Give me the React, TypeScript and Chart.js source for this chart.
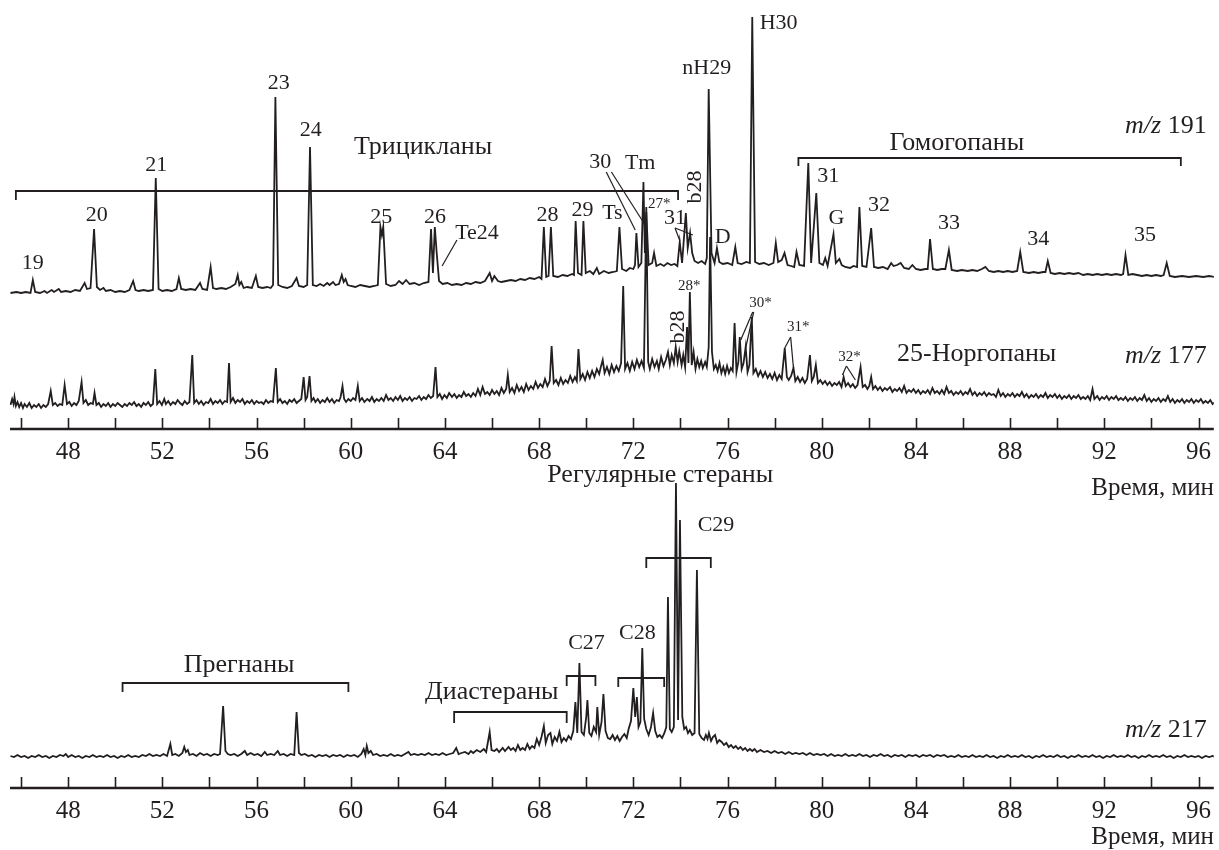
import React, { useEffect, useRef } from "react";
import { Chart, registerables } from "chart.js";
Chart.register(...registerables);

const FONT = '"Liberation Serif", "DejaVu Serif", serif';
const INK = "#231f20";
const T_MIN = 45.53;
const T_MAX = 96.65;

const TICK_VALUES = [46, 48, 50, 52, 54, 56, 58, 60, 62, 64, 66, 68, 70, 72, 74, 76, 78, 80, 82, 84, 86, 88, 90, 92, 94, 96];
const TICK_LABEL_STEP = 4;
const AXIS_TITLE = "Время, мин";

// m/z 191 : [time, intensity]
const mz191: [number, number][] = [
  [45.55,0],[45.8,1],[46.0,0],[46.2,1],[46.4,0],[46.5,13],[46.6,1],[46.8,0],[47.0,2],[47.1,0],[47.3,3],[47.4,1],[47.6,4],[47.7,1],[47.9,2],[48.1,1],[48.3,3],[48.5,2],[48.7,10],[48.8,4],[48.95,5],[49.1,64],[49.22,6],[49.35,3],[49.5,5],[49.6,2],[49.8,3],[50.0,1],[50.2,2],[50.4,1],[50.6,3],[50.76,12],[50.86,3],[51.0,2],[51.2,3],[51.4,2],[51.6,3],[51.72,115],[51.84,4],[52.0,2],[52.2,3],[52.4,2],[52.6,4],[52.7,15],[52.8,4],[53.0,3],[53.2,4],[53.4,3],[53.6,10],[53.7,4],[53.9,3],[54.05,26],[54.15,5],[54.3,4],[54.5,5],[54.7,4],[54.9,6],[55.1,9],[55.2,18],[55.27,8],[55.35,11],[55.45,5],[55.6,6],[55.8,5],[55.97,17],[56.07,6],[56.25,5],[56.45,6],[56.6,5],[56.7,8],[56.8,196],[56.92,8],[57.1,6],[57.3,5],[57.5,7],[57.7,15],[57.8,7],[58.0,6],[58.15,8],[58.27,146],[58.39,8],[58.55,7],[58.7,9],[58.85,7],[59.0,10],[59.1,8],[59.25,11],[59.35,8],[59.5,9],[59.62,18],[59.7,11],[59.78,14],[59.87,8],[60.0,7],[60.2,6],[60.4,8],[60.6,7],[60.8,6],[61.0,7],[61.15,8],[61.26,66],[61.32,58],[61.38,66],[61.5,9],[61.7,7],[61.9,8],[62.05,12],[62.2,9],[62.35,13],[62.5,9],[62.7,10],[62.9,8],[63.1,10],[63.3,11],[63.41,64],[63.49,20],[63.57,66],[63.65,40],[63.75,12],[63.9,9],[64.1,10],[64.3,8],[64.5,9],[64.7,8],[64.9,10],[65.1,9],[65.3,11],[65.5,10],[65.7,12],[65.9,20],[66.0,12],[66.1,17],[66.25,12],[66.4,11],[66.6,12],[66.8,13],[67.0,12],[67.2,14],[67.4,13],[67.6,15],[67.8,14],[68.0,16],[68.1,14],[68.2,66],[68.3,16],[68.4,17],[68.5,66],[68.6,17],[68.8,16],[69.0,18],[69.2,17],[69.4,19],[69.48,18],[69.55,72],[69.65,20],[69.8,18],[69.88,72],[69.98,20],[70.15,22],[70.3,19],[70.45,25],[70.55,19],[70.75,22],[70.95,20],[71.15,21],[71.3,22],[71.41,66],[71.52,24],[71.7,22],[71.85,25],[72.0,24],[72.07,28],[72.13,60],[72.22,26],[72.34,30],[72.43,111],[72.49,40],[72.55,81],[72.65,28],[72.8,30],[72.88,40],[72.98,27],[73.15,29],[73.3,27],[73.45,30],[73.6,28],[73.75,29],[73.87,27],[73.97,51],[74.07,30],[74.23,80],[74.31,45],[74.41,60],[74.5,40],[74.6,32],[74.75,30],[74.9,32],[75.05,29],[75.12,35],[75.2,204],[75.32,40],[75.45,30],[75.55,45],[75.65,31],[75.8,29],[76.0,30],[76.2,28],[76.33,46],[76.43,30],[76.6,29],[76.8,31],[76.95,30],[77.05,276],[77.17,31],[77.35,29],[77.55,30],[77.75,28],[77.95,30],[78.05,50],[78.15,31],[78.3,33],[78.42,40],[78.55,28],[78.7,27],[78.83,26],[78.93,41],[79.05,28],[79.25,27],[79.43,130],[79.55,30],[79.77,100],[79.9,30],[80.05,28],[80.15,35],[80.25,27],[80.5,59],[80.6,30],[80.75,34],[80.85,28],[81.0,26],[81.2,25],[81.35,27],[81.5,26],[81.6,86],[81.72,27],[81.9,26],[82.1,65],[82.22,26],[82.4,25],[82.6,26],[82.8,24],[82.95,30],[83.05,27],[83.2,28],[83.35,30],[83.5,25],[83.7,24],[83.85,28],[84.0,24],[84.2,23],[84.4,24],[84.5,24],[84.6,54],[84.72,24],[84.9,23],[85.1,24],[85.25,24],[85.4,43],[85.52,23],[85.75,22],[85.95,23],[86.2,22],[86.4,23],[86.6,22],[86.8,24],[86.95,26],[87.1,22],[87.3,21],[87.5,22],[87.7,21],[87.9,22],[88.1,21],[88.3,22],[88.43,41],[88.56,21],[88.8,20],[89.0,21],[89.2,20],[89.4,21],[89.5,21],[89.6,32],[89.72,20],[89.9,19],[90.1,20],[90.3,19],[90.5,20],[90.7,19],[90.9,20],[91.1,18],[91.3,19],[91.5,18],[91.7,19],[91.9,18],[92.1,19],[92.3,18],[92.5,19],[92.7,18],[92.8,19],[92.9,38],[93.02,18],[93.2,19],[93.4,18],[93.6,17],[93.8,18],[94.0,17],[94.2,18],[94.4,17],[94.52,18],[94.65,30],[94.78,17],[95.0,16],[95.3,17],[95.6,16],[95.9,17],[96.2,16],[96.45,17],[96.7,16]
];

// m/z 177 : [time, intensity]
const mz177: [number, number][] = [
  [45.55,2],[45.62,8],[45.68,3],[45.72,10],[45.78,1],[45.85,5],[45.92,0],[46.0,4],[46.08,-1],[46.15,3],[46.25,0],[46.35,4],[46.45,-1],[46.55,2],[46.65,0],[46.75,3],[46.85,-1],[46.95,2],[47.05,0],[47.15,3],[47.26,16],[47.35,2],[47.45,4],[47.55,1],[47.65,3],[47.75,2],[47.85,22],[47.95,3],[48.05,5],[48.15,1],[48.25,4],[48.35,2],[48.45,6],[48.57,25],[48.65,4],[48.75,7],[48.85,2],[48.95,4],[49.05,3],[49.12,14],[49.2,2],[49.3,4],[49.4,0],[49.5,3],[49.6,1],[49.7,4],[49.8,0],[49.9,3],[50.0,1],[50.1,4],[50.2,2],[50.3,0],[50.4,3],[50.5,1],[50.6,4],[50.7,2],[50.8,5],[50.9,1],[51.0,3],[51.1,0],[51.2,4],[51.3,2],[51.4,5],[51.5,1],[51.6,3],[51.7,38],[51.78,3],[51.88,6],[51.98,2],[52.08,8],[52.15,3],[52.25,6],[52.35,2],[52.45,5],[52.55,3],[52.65,7],[52.75,4],[52.85,2],[52.95,6],[53.05,3],[53.15,5],[53.27,52],[53.35,4],[53.45,7],[53.55,3],[53.65,6],[53.75,2],[53.85,5],[53.95,4],[54.05,8],[54.15,3],[54.25,6],[54.35,4],[54.45,7],[54.55,3],[54.65,6],[54.75,5],[54.83,44],[54.9,5],[55.0,9],[55.1,4],[55.2,7],[55.3,5],[55.4,8],[55.5,3],[55.6,6],[55.7,4],[55.8,7],[55.9,3],[56.0,6],[56.1,4],[56.2,5],[56.3,3],[56.4,7],[56.5,4],[56.6,6],[56.7,5],[56.82,39],[56.9,5],[57.0,8],[57.1,4],[57.2,6],[57.3,3],[57.4,7],[57.5,5],[57.6,8],[57.7,4],[57.8,6],[57.9,8],[58.0,30],[58.08,7],[58.15,10],[58.25,31],[58.33,6],[58.42,9],[58.5,5],[58.6,8],[58.7,4],[58.8,7],[58.9,5],[59.0,9],[59.1,5],[59.2,8],[59.3,4],[59.4,7],[59.5,6],[59.57,10],[59.65,21],[59.72,8],[59.8,5],[59.9,8],[60.0,6],[60.1,9],[60.2,7],[60.3,21],[60.38,6],[60.48,9],[60.58,5],[60.7,8],[60.8,6],[60.9,10],[61.0,5],[61.1,8],[61.2,6],[61.3,9],[61.4,6],[61.5,12],[61.6,7],[61.7,9],[61.8,6],[61.9,10],[62.0,7],[62.1,11],[62.2,6],[62.3,9],[62.4,7],[62.5,10],[62.6,6],[62.7,9],[62.8,8],[62.9,11],[63.0,7],[63.1,10],[63.2,8],[63.3,12],[63.4,9],[63.5,11],[63.6,40],[63.68,10],[63.78,13],[63.88,8],[63.98,12],[64.08,9],[64.18,14],[64.3,10],[64.4,13],[64.5,9],[64.6,12],[64.7,10],[64.8,15],[64.9,11],[65.0,13],[65.1,10],[65.2,14],[65.3,11],[65.4,18],[65.5,12],[65.6,20],[65.7,13],[65.8,15],[65.9,12],[66.0,17],[66.1,13],[66.2,16],[66.3,12],[66.4,19],[66.5,14],[66.6,18],[66.67,32],[66.75,15],[66.85,19],[66.95,14],[67.05,22],[67.15,16],[67.25,20],[67.35,15],[67.45,23],[67.55,17],[67.65,21],[67.75,18],[67.85,25],[67.95,19],[68.05,23],[68.15,20],[68.25,28],[68.35,21],[68.45,26],[68.53,61],[68.62,24],[68.72,27],[68.82,22],[68.92,29],[69.02,23],[69.12,27],[69.22,24],[69.32,31],[69.42,25],[69.52,30],[69.6,26],[69.67,58],[69.75,28],[69.85,33],[69.95,27],[70.05,35],[70.15,29],[70.25,36],[70.35,30],[70.45,38],[70.55,33],[70.62,40],[70.7,47],[70.78,34],[70.88,40],[70.98,33],[71.08,42],[71.18,35],[71.28,41],[71.38,36],[71.48,44],[71.57,121],[71.65,38],[71.75,44],[71.85,36],[71.95,45],[72.05,38],[72.15,47],[72.25,40],[72.35,46],[72.45,39],[72.55,200],[72.63,45],[72.7,38],[72.8,48],[72.9,40],[73.0,46],[73.08,38],[73.18,50],[73.28,41],[73.38,47],[73.47,55],[73.55,42],[73.63,52],[73.72,44],[73.8,60],[73.88,45],[73.95,56],[74.05,42],[74.12,52],[74.2,40],[74.28,80],[74.34,44],[74.4,115],[74.48,42],[74.56,55],[74.64,38],[74.72,48],[74.8,40],[74.88,46],[74.95,39],[75.05,45],[75.12,40],[75.2,60],[75.26,170],[75.34,55],[75.42,38],[75.5,42],[75.58,36],[75.66,44],[75.74,34],[75.82,40],[75.9,33],[75.98,41],[76.06,34],[76.14,39],[76.22,36],[76.3,84],[76.38,35],[76.46,45],[76.52,70],[76.6,38],[76.68,44],[76.77,60],[76.85,35],[76.93,42],[77.03,90],[77.1,34],[77.2,38],[77.3,31],[77.4,36],[77.5,30],[77.6,35],[77.7,29],[77.8,33],[77.9,28],[78.0,34],[78.1,27],[78.2,32],[78.3,28],[78.43,59],[78.52,30],[78.6,27],[78.7,31],[78.8,39],[78.88,26],[78.98,30],[79.08,25],[79.18,29],[79.28,24],[79.38,28],[79.5,52],[79.58,26],[79.66,30],[79.75,42],[79.84,24],[79.94,27],[80.04,23],[80.14,26],[80.24,22],[80.34,25],[80.44,21],[80.54,24],[80.64,22],[80.74,25],[80.84,20],[80.93,30],[81.02,21],[81.12,24],[81.22,20],[81.32,23],[81.42,19],[81.52,22],[81.65,40],[81.74,20],[81.84,22],[81.94,18],[82.02,21],[82.1,30],[82.18,18],[82.28,21],[82.38,17],[82.48,20],[82.58,16],[82.68,19],[82.78,17],[82.9,20],[83.0,15],[83.1,18],[83.2,16],[83.3,19],[83.4,15],[83.5,21],[83.6,14],[83.7,17],[83.8,15],[83.9,18],[84.0,14],[84.1,17],[84.2,13],[84.3,16],[84.4,14],[84.5,17],[84.6,13],[84.7,19],[84.8,14],[84.9,16],[85.0,13],[85.1,17],[85.2,13],[85.3,20],[85.4,14],[85.5,16],[85.6,12],[85.7,15],[85.8,13],[85.9,16],[86.0,12],[86.1,15],[86.2,13],[86.3,18],[86.4,12],[86.5,15],[86.6,11],[86.7,14],[86.8,12],[86.9,15],[87.0,11],[87.1,14],[87.2,12],[87.3,13],[87.4,10],[87.5,17],[87.6,11],[87.7,14],[87.8,10],[87.9,13],[88.0,11],[88.1,14],[88.2,10],[88.3,13],[88.4,11],[88.5,15],[88.6,10],[88.7,13],[88.8,9],[88.9,12],[89.0,10],[89.1,13],[89.2,9],[89.3,12],[89.4,10],[89.5,14],[89.6,9],[89.7,12],[89.8,10],[89.9,13],[90.0,9],[90.1,12],[90.2,8],[90.3,11],[90.4,9],[90.5,12],[90.6,8],[90.7,11],[90.8,9],[90.9,12],[91.0,8],[91.1,10],[91.2,8],[91.3,11],[91.4,7],[91.5,18],[91.58,8],[91.7,11],[91.8,7],[91.9,10],[92.0,8],[92.1,11],[92.2,7],[92.3,10],[92.4,8],[92.5,11],[92.6,7],[92.7,9],[92.8,7],[92.9,10],[93.0,6],[93.1,9],[93.2,7],[93.3,10],[93.4,6],[93.5,9],[93.6,7],[93.7,12],[93.8,6],[93.9,9],[94.0,5],[94.1,8],[94.2,6],[94.3,9],[94.4,5],[94.5,8],[94.6,6],[94.7,11],[94.8,5],[94.9,8],[95.0,4],[95.1,7],[95.2,5],[95.3,8],[95.4,4],[95.5,7],[95.6,5],[95.7,8],[95.8,4],[95.9,7],[96.0,5],[96.1,8],[96.2,4],[96.3,6],[96.4,4],[96.5,7],[96.6,3],[96.7,5]
];

// m/z 217 : [time, intensity]
const mz217: [number, number][] = [
  [45.55,1],[45.7,0],[45.85,2],[46.0,0],[46.15,1],[46.3,-1],[46.45,1],[46.6,0],[46.75,2],[46.9,0],[47.05,1],[47.2,-1],[47.35,1],[47.5,0],[47.65,2],[47.8,1],[47.9,3],[48.0,0],[48.15,2],[48.3,0],[48.45,1],[48.6,-1],[48.75,1],[48.9,0],[49.05,2],[49.2,0],[49.35,1],[49.5,0],[49.65,2],[49.8,0],[49.95,1],[50.1,-1],[50.25,1],[50.4,0],[50.55,2],[50.7,0],[50.85,1],[51.0,0],[51.15,2],[51.3,1],[51.45,3],[51.6,1],[51.75,2],[51.9,1],[52.05,3],[52.2,1],[52.34,13],[52.42,2],[52.55,3],[52.7,1],[52.85,4],[52.93,10],[53.0,5],[53.08,7],[53.15,2],[53.3,3],[53.45,1],[53.6,4],[53.75,2],[53.9,3],[54.05,1],[54.2,3],[54.35,2],[54.45,3],[54.58,51],[54.68,6],[54.78,3],[54.9,2],[55.05,3],[55.2,1],[55.35,3],[55.5,6],[55.6,2],[55.75,4],[55.9,2],[56.05,3],[56.2,1],[56.35,5],[56.45,2],[56.6,3],[56.75,2],[56.9,6],[57.0,2],[57.15,3],[57.3,1],[57.45,3],[57.6,2],[57.7,45],[57.8,4],[57.9,2],[58.05,3],[58.2,1],[58.35,2],[58.5,0],[58.65,2],[58.8,1],[58.95,2],[59.1,0],[59.25,2],[59.4,1],[59.55,2],[59.7,0],[59.85,2],[60.0,1],[60.15,2],[60.3,0],[60.45,3],[60.55,8],[60.62,2],[60.68,11],[60.75,4],[60.85,6],[60.95,2],[61.1,3],[61.25,1],[61.4,2],[61.55,1],[61.7,3],[61.85,1],[62.0,2],[62.15,1],[62.3,3],[62.45,5],[62.55,2],[62.7,3],[62.85,2],[63.0,3],[63.15,2],[63.3,4],[63.45,2],[63.6,3],[63.75,2],[63.9,4],[64.05,2],[64.2,3],[64.35,4],[64.48,9],[64.58,3],[64.7,4],[64.85,5],[65.0,3],[65.1,6],[65.2,4],[65.35,7],[65.5,5],[65.65,8],[65.75,5],[65.9,25],[65.98,7],[66.1,6],[66.2,8],[66.3,5],[66.45,9],[66.55,6],[66.7,10],[66.8,7],[66.9,9],[67.0,6],[67.1,12],[67.2,7],[67.3,9],[67.4,7],[67.5,13],[67.6,8],[67.7,11],[67.8,9],[67.9,18],[68.0,12],[68.1,20],[68.2,31],[68.28,14],[68.38,22],[68.48,24],[68.56,13],[68.66,20],[68.76,16],[68.86,25],[68.95,15],[69.05,19],[69.15,16],[69.25,21],[69.35,18],[69.45,26],[69.54,55],[69.62,24],[69.71,94],[69.8,25],[69.9,22],[70.0,40],[70.05,57],[70.13,24],[70.22,21],[70.32,30],[70.42,25],[70.47,50],[70.55,22],[70.65,35],[70.73,63],[70.82,26],[70.92,19],[71.02,18],[71.12,22],[71.22,17],[71.32,21],[71.42,16],[71.52,20],[71.62,23],[71.72,19],[71.8,28],[71.9,36],[72.0,69],[72.08,40],[72.15,60],[72.22,30],[72.3,35],[72.38,109],[72.46,38],[72.55,28],[72.65,22],[72.75,30],[72.84,44],[72.93,26],[73.02,20],[73.12,22],[73.22,19],[73.32,24],[73.4,30],[73.47,160],[73.55,28],[73.63,25],[73.72,30],[73.81,274],[73.9,37],[73.98,237],[74.08,40],[74.16,28],[74.24,30],[74.32,24],[74.4,27],[74.5,22],[74.6,24],[74.7,187],[74.8,23],[74.9,19],[75.0,17],[75.08,22],[75.15,18],[75.21,24],[75.3,16],[75.38,20],[75.47,22],[75.56,14],[75.65,17],[75.75,15],[75.85,12],[75.95,14],[76.05,10],[76.15,12],[76.25,9],[76.35,11],[76.45,8],[76.55,10],[76.65,7],[76.75,9],[76.85,6],[76.95,8],[77.05,6],[77.15,8],[77.25,5],[77.4,7],[77.55,5],[77.7,6],[77.85,4],[78.0,6],[78.15,4],[78.3,5],[78.45,3],[78.6,5],[78.75,3],[78.9,4],[79.05,3],[79.2,4],[79.35,2],[79.5,4],[79.65,2],[79.8,3],[79.95,2],[80.1,3],[80.25,1],[80.4,3],[80.55,1],[80.7,2],[80.85,1],[81.0,3],[81.15,1],[81.3,2],[81.45,1],[81.6,3],[81.75,1],[81.9,2],[82.05,0],[82.2,2],[82.35,1],[82.5,3],[82.65,1],[82.8,2],[82.95,0],[83.1,2],[83.25,1],[83.4,2],[83.55,0],[83.7,2],[83.85,1],[84.0,2],[84.15,0],[84.3,2],[84.45,1],[84.6,2],[84.75,0],[84.9,2],[85.05,1],[85.2,2],[85.35,0],[85.5,1],[85.65,0],[85.8,2],[85.95,0],[86.1,1],[86.25,0],[86.4,2],[86.55,0],[86.7,1],[86.85,0],[87.0,2],[87.15,0],[87.3,1],[87.45,-1],[87.6,1],[87.75,0],[87.9,2],[88.05,0],[88.2,1],[88.35,0],[88.5,2],[88.65,0],[88.8,1],[88.95,-1],[89.1,1],[89.25,0],[89.4,2],[89.55,0],[89.7,1],[89.85,0],[90.0,2],[90.15,0],[90.3,1],[90.45,-1],[90.6,1],[90.75,0],[90.9,2],[91.05,0],[91.2,1],[91.35,0],[91.5,2],[91.65,0],[91.8,1],[91.95,-1],[92.1,1],[92.25,0],[92.4,2],[92.55,0],[92.7,1],[92.85,0],[93.0,2],[93.15,0],[93.3,1],[93.45,-1],[93.6,1],[93.75,0],[93.9,2],[94.05,0],[94.2,1],[94.35,0],[94.5,2],[94.65,0],[94.8,1],[94.95,-1],[95.1,1],[95.25,0],[95.4,2],[95.55,0],[95.7,1],[95.85,0],[96.0,1],[96.15,-1],[96.3,1],[96.45,0],[96.6,1],[96.7,0]
];

type Txt = { text: string; t: number; v: number; axis: string; size: number; align?: CanvasTextAlign; rot?: boolean; mz?: boolean };
type Bracket = { t1: number; t2: number; v: number; drop: number; axis: string };
type Seg = { t1: number; v1: number; t2: number; v2: number; axis: string };

const topTexts: Txt[] = [
  { text: "19", t: 46.5, v: 30, axis: "y191", size: 22 },
  { text: "20", t: 49.21, v: 78, axis: "y191", size: 22 },
  { text: "21", t: 51.74, v: 128, axis: "y191", size: 22 },
  { text: "23", t: 56.94, v: 210, axis: "y191", size: 22 },
  { text: "24", t: 58.3, v: 163, axis: "y191", size: 22 },
  { text: "25", t: 61.3, v: 76, axis: "y191", size: 22 },
  { text: "26", t: 63.58, v: 76, axis: "y191", size: 22 },
  { text: "Te24", t: 65.36, v: 60, axis: "y191", size: 22 },
  { text: "28", t: 68.36, v: 78, axis: "y191", size: 22 },
  { text: "29", t: 69.84, v: 83, axis: "y191", size: 22 },
  { text: "Ts", t: 71.11, v: 80, axis: "y191", size: 22 },
  { text: "30", t: 70.6, v: 131, axis: "y191", size: 22 },
  { text: "Tm", t: 72.29, v: 130, axis: "y191", size: 22 },
  { text: "27*", t: 73.1, v: 89, axis: "y191", size: 15 },
  { text: "31", t: 73.77, v: 75, axis: "y191", size: 22 },
  { text: "b28", t: 74.61, v: 106, axis: "y191", size: 22, rot: true },
  { text: "nH29", t: 75.12, v: 225, axis: "y191", size: 22 },
  { text: "H30", t: 78.17, v: 270, axis: "y191", size: 22 },
  { text: "D", t: 75.79, v: 56, axis: "y191", size: 22 },
  { text: "31", t: 80.28, v: 117, axis: "y191", size: 22 },
  { text: "G", t: 80.62, v: 75, axis: "y191", size: 22 },
  { text: "32", t: 82.43, v: 88, axis: "y191", size: 22 },
  { text: "33", t: 85.4, v: 70, axis: "y191", size: 22 },
  { text: "34", t: 89.2, v: 54, axis: "y191", size: 22 },
  { text: "35", t: 93.73, v: 58, axis: "y191", size: 22 },
  { text: "Трицикланы", t: 63.07, v: 146, axis: "y191", size: 26 },
  { text: "Гомогопаны", t: 85.74, v: 150, axis: "y191", size: 26 },
  { text: "m/z 191", t: 96.35, v: 167, axis: "y191", size: 26, align: "right", mz: true },
  { text: "25-Норгопаны", t: 86.58, v: 53, axis: "y177", size: 26 },
  { text: "m/z 177", t: 96.35, v: 51, axis: "y177", size: 26, align: "right", mz: true },
  { text: "b28", t: 73.9, v: 80, axis: "y177", size: 22, rot: true },
  { text: "28*", t: 74.37, v: 121, axis: "y177", size: 15 },
  { text: "30*", t: 77.4, v: 104, axis: "y177", size: 15 },
  { text: "31*", t: 79.0, v: 80, axis: "y177", size: 15 },
  { text: "32*", t: 81.18, v: 50, axis: "y177", size: 15 },
];

const topBrackets: Bracket[] = [
  { t1: 45.78, t2: 73.9, v: 102, drop: 9, axis: "y191" },
  { t1: 79.01, t2: 95.25, v: 135, drop: 8, axis: "y191" },
];

const topSegs: Seg[] = [
  { t1: 64.51, v1: 53, t2: 63.88, v2: 27, axis: "y191" },
  { t1: 70.85, v1: 121, t2: 72.08, v2: 63, axis: "y191" },
  { t1: 71.07, v1: 121, t2: 72.5, v2: 68, axis: "y191" },
  { t1: 73.77, v1: 65, t2: 73.98, v2: 52, axis: "y191" },
  { t1: 73.77, v1: 65, t2: 74.53, v2: 58, axis: "y191" },
  { t1: 77.07, v1: 95, t2: 76.56, v2: 67, axis: "y177" },
  { t1: 77.11, v1: 95, t2: 76.77, v2: 59, axis: "y177" },
  { t1: 78.68, v1: 70, t2: 78.43, v2: 59, axis: "y177" },
  { t1: 78.68, v1: 70, t2: 78.8, v2: 39, axis: "y177" },
  { t1: 81.05, v1: 41, t2: 80.88, v2: 32, axis: "y177" },
  { t1: 81.05, v1: 41, t2: 81.43, v2: 27, axis: "y177" },
];

const bottomTexts: Txt[] = [
  { text: "Регулярные стераны", t: 73.14, v: 282, axis: "y217", size: 26 },
  { text: "C29", t: 75.51, v: 232, axis: "y217", size: 22 },
  { text: "C27", t: 70.01, v: 114, axis: "y217", size: 22 },
  { text: "C28", t: 72.17, v: 124, axis: "y217", size: 22 },
  { text: "Прегнаны", t: 55.26, v: 92, axis: "y217", size: 26 },
  { text: "Диастераны", t: 65.99, v: 65, axis: "y217", size: 26 },
  { text: "m/z 217", t: 96.35, v: 27, axis: "y217", size: 26, align: "right", mz: true },
];

const bottomBrackets: Bracket[] = [
  { t1: 50.31, t2: 59.9, v: 74, drop: 9, axis: "y217" },
  { t1: 64.39, t2: 69.17, v: 45, drop: 11, axis: "y217" },
  { t1: 69.17, t2: 70.39, v: 81, drop: 10, axis: "y217" },
  { t1: 71.36, t2: 73.31, v: 79, drop: 9, axis: "y217" },
  { t1: 72.55, t2: 75.29, v: 199, drop: 10, axis: "y217" },
];

function makeAnnot(texts: Txt[], brackets: Bracket[], segs: Seg[], titleY: number) {
  return {
    id: "annot",
    afterDatasetsDraw(chart: any) {
      const ctx: CanvasRenderingContext2D = chart.ctx;
      const xs = chart.scales.x;
      const area = chart.chartArea;
      ctx.save();
      ctx.strokeStyle = INK;
      ctx.fillStyle = INK;
      ctx.lineCap = "butt";
      // axis line and inward ticks
      ctx.lineWidth = 2.5;
      ctx.beginPath();
      ctx.moveTo(area.left, area.bottom);
      ctx.lineTo(area.right, area.bottom);
      ctx.stroke();
      ctx.lineWidth = 1.6;
      xs.ticks.forEach((tk: any) => {
        const px = Math.round(xs.getPixelForValue(tk.value)) + 0.5;
        ctx.beginPath();
        ctx.moveTo(px, area.bottom);
        ctx.lineTo(px, area.bottom - 11);
        ctx.stroke();
      });
      // brackets
      ctx.lineWidth = 1.8;
      brackets.forEach((b) => {
        const ys = chart.scales[b.axis];
        const x1 = xs.getPixelForValue(b.t1);
        const x2 = xs.getPixelForValue(b.t2);
        const y = ys.getPixelForValue(b.v);
        const yd = ys.getPixelForValue(b.v - b.drop);
        ctx.beginPath();
        ctx.moveTo(x1, yd);
        ctx.lineTo(x1, y);
        ctx.lineTo(x2, y);
        ctx.lineTo(x2, yd);
        ctx.stroke();
      });
      // pointer lines
      ctx.lineWidth = 1.2;
      segs.forEach((s) => {
        const ys = chart.scales[s.axis];
        ctx.beginPath();
        ctx.moveTo(xs.getPixelForValue(s.t1), ys.getPixelForValue(s.v1));
        ctx.lineTo(xs.getPixelForValue(s.t2), ys.getPixelForValue(s.v2));
        ctx.stroke();
      });
      // texts
      ctx.textBaseline = "middle";
      texts.forEach((tx) => {
        const ys = chart.scales[tx.axis];
        const px = xs.getPixelForValue(tx.t);
        const py = ys.getPixelForValue(tx.v);
        if (tx.mz) {
          const parts = tx.text.split(" ");
          const ital = parts[0];
          const rest = " " + parts.slice(1).join(" ");
          ctx.font = `${tx.size}px ${FONT}`;
          const w2 = ctx.measureText(rest).width;
          ctx.font = `italic ${tx.size}px ${FONT}`;
          const w1 = ctx.measureText(ital).width;
          ctx.textAlign = "left";
          ctx.fillText(ital, px - w2 - w1, py);
          ctx.font = `${tx.size}px ${FONT}`;
          ctx.fillText(rest, px - w2, py);
        } else if (tx.rot) {
          ctx.save();
          ctx.translate(px, py);
          ctx.rotate(-Math.PI / 2);
          ctx.font = `${tx.size}px ${FONT}`;
          ctx.textAlign = "center";
          ctx.fillText(tx.text, 0, 0);
          ctx.restore();
        } else {
          ctx.font = `${tx.size}px ${FONT}`;
          ctx.textAlign = tx.align || "center";
          ctx.fillText(tx.text, px, py);
        }
      });
      // axis title
      ctx.font = `25px ${FONT}`;
      ctx.textAlign = "right";
      ctx.fillText(AXIS_TITLE, 1214, titleY);
      ctx.restore();
    },
  };
}

function xScale(axisHeight: number) {
  return {
    type: "linear",
    min: T_MIN,
    max: T_MAX,
    position: "bottom",
    grid: { display: false, drawTicks: false },
    border: { display: false },
    afterBuildTicks: (s: any) => {
      s.ticks = TICK_VALUES.map((v) => ({ value: v }));
    },
    ticks: {
      autoSkip: false,
      maxRotation: 0,
      padding: 8,
      color: INK,
      font: { family: FONT, size: 25 },
      callback: (v: any) => (Number(v) % TICK_LABEL_STEP === 0 ? String(v) : ""),
    },
    afterFit: (s: any) => {
      s.height = axisHeight;
    },
  };
}

function lineDs(pts: [number, number][], axis: string) {
  return {
    data: pts.map(([x, y]) => ({ x, y })),
    yAxisID: axis,
    borderColor: INK,
    borderWidth: 1.8,
    pointRadius: 0,
    tension: 0,
    fill: false,
  };
}

export default function App() {
  const topRef = useRef<HTMLCanvasElement>(null);
  const botRef = useRef<HTMLCanvasElement>(null);

  useEffect(() => {
    const top = new Chart(topRef.current as HTMLCanvasElement, {
      type: "line",
      data: { datasets: [lineDs(mz177, "y177"), lineDs(mz191, "y191")] as any },
      options: {
        animation: false,
        responsive: false,
        devicePixelRatio: 1,
        events: [],
        layout: { padding: { left: 10, right: 0, top: 9, bottom: 0 } },
        plugins: { legend: { display: false }, tooltip: { enabled: false } },
        scales: {
          x: xScale(76) as any,
          y191: { display: false, min: -136, max: 284 },
          y177: { display: false, min: -22, max: 398 },
        },
      },
      plugins: [makeAnnot(topTexts, topBrackets, topSegs, 488)],
    });
    const bot = new Chart(botRef.current as HTMLCanvasElement, {
      type: "line",
      data: { datasets: [lineDs(mz217, "y217")] as any },
      options: {
        animation: false,
        responsive: false,
        devicePixelRatio: 1,
        events: [],
        layout: { padding: { left: 10, right: 0, top: 0, bottom: 0 } },
        plugins: { legend: { display: false }, tooltip: { enabled: false } },
        scales: {
          x: xScale(62) as any,
          y217: { display: false, min: -31, max: 297 },
        },
      },
      plugins: [makeAnnot(bottomTexts, bottomBrackets, [], 377)],
    });
    return () => {
      top.destroy();
      bot.destroy();
    };
  }, []);

  return (
    <div style={{ position: "absolute", left: 0, top: 0, width: 1219, height: 850, background: "#fff", overflow: "hidden" }}>
      <canvas ref={topRef} width={1219} height={505} style={{ position: "absolute", left: 0, top: 0 }} />
      <canvas ref={botRef} width={1219} height={390} style={{ position: "absolute", left: 0, top: 460 }} />
    </div>
  );
}
